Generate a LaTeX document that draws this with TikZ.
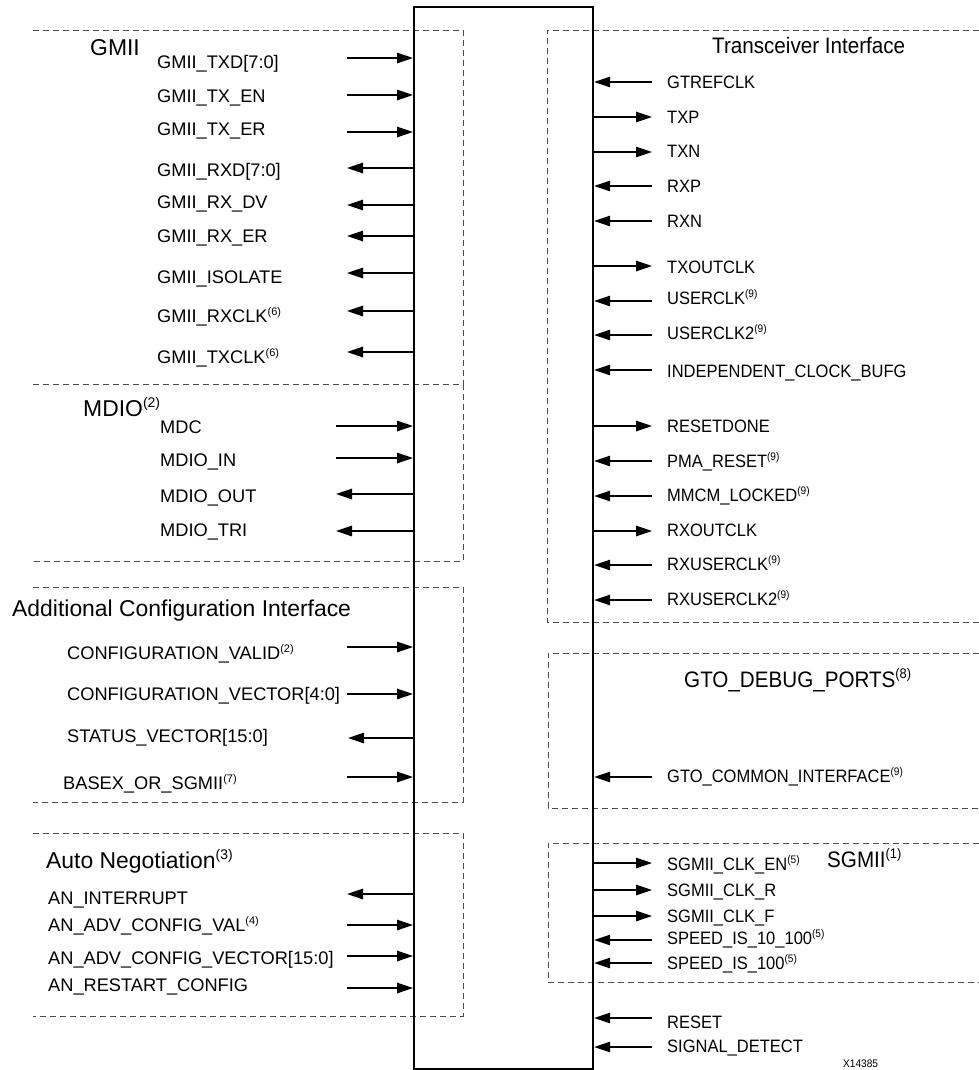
\documentclass[tikz,border=0pt]{standalone}
\usepackage{fontspec}
\setmainfont{Liberation Sans}
\newfontfamily\narfont[FakeStretch=0.92]{Liberation Sans}
\usetikzlibrary{arrows.meta}
\newcommand\nt[1]{\raisebox{7bp}{\fontsize{11}{11}\selectfont(#1)}}
\newcommand\ntt[1]{\raisebox{9bp}{\fontsize{14}{14}\selectfont(#1)}}
\tikzset{
  sig/.style={line width=1.3bp, black},
  tipend/.style={sig, -{Triangle[length=16bp,width=10.5bp]}},
  tipstart/.style={sig, {Triangle[length=16bp,width=10.5bp]}-},
  grp/.style={dashed, dash pattern=on 6bp off 4bp, line width=0.9bp, black!70},
  lbl/.style={inner sep=0, anchor=base west, font=\fontsize{18.3}{20}\selectfont},
  rlbl/.style={inner sep=0, anchor=base west, font=\narfont\fontsize{18}{20}\selectfont},
  ltitle/.style={inner sep=0, anchor=base west, font=\fontsize{23}{26}\selectfont},
  rtitle/.style={inner sep=0, anchor=base west, font=\narfont\fontsize{22.5}{26}\selectfont},
}
% #1 name, #2 style, #3 y, #4 x start, #5 label x, #6 label baseline, #7 text
\newcommand\Lsig[7]{%
  \coordinate (#1) at (#4,#3);
  \draw[#2] (#1) -- (#1 -| core.west);
  \node[lbl] (#1-t) at (#5,#6) {#7};}
% #1 name, #2 style, #3 y, #4 label baseline, #5 text
\newcommand\Rsig[5]{%
  \coordinate (#1) at (652,#3);
  \draw[#2] (#1) -- (#1 -| core.east);
  \node[rlbl] (#1-t) at (667,#4) {#5};}
\begin{document}
\begin{tikzpicture}[x=1bp,y=-1bp]
\useasboundingbox (0,0) rectangle (979,1070);
% group boxes (left)
\draw[grp] (33,30) -- (463,30) -- (463,384);
\draw[grp] (33,384) -- (463,384) -- (463,561) -- (33,561);
\draw[grp] (33,587) -- (463,587) -- (463,802) -- (33,802);
\draw[grp] (33,833) -- (463,833) -- (463,1016) -- (33,1016);
% group boxes (right)
\draw[grp] (979,30) -- (547,30) -- (547,622) -- (979,622);
\draw[grp] (979,653) -- (548,653) -- (548,808) -- (979,808);
\draw[grp] (979,843) -- (548,843) -- (548,982) -- (979,982);
% core block
\node[draw, fill=none, line width=2.2bp, inner sep=0, minimum width=179bp, minimum height=1062bp, anchor=north west] (core) at (413,6) {};
% titles
\node[ltitle] (tgmii) at (90,55) {GMII};
\node[ltitle] (tmdio) at (83,416) {MDIO\ntt{2}};
\node[ltitle] (taci) at (12,616) {Additional Configuration Interface};
\node[ltitle] (tan) at (46,868) {Auto Negotiation\ntt{3}};
\node[rtitle] (ttr) at (712,53) {Transceiver Interface};
\node[rtitle] (tgto) at (684,687) {GTO\_DEBUG\_PORTS\ntt{8}};
\node[rtitle] (tsg) at (827,867) {SGMII\ntt{1}};
\node[inner sep=0, anchor=base west, font=\narfont\fontsize{11}{12}\selectfont] (tid) at (843,1067) {X14385};
% GMII
\Lsig{txd}{tipend}{58}{347}{157}{68}{GMII\_TXD[7:0]}
\Lsig{txen}{tipend}{95}{347}{157}{102}{GMII\_TX\_EN}
\Lsig{txer}{tipend}{132}{347}{157}{135}{GMII\_TX\_ER}
\Lsig{rxd}{tipstart}{168}{347}{157}{176}{GMII\_RXD[7:0]}
\Lsig{rxdv}{tipstart}{205}{347}{157}{208}{GMII\_RX\_DV}
\Lsig{rxer}{tipstart}{236}{347}{157}{242}{GMII\_RX\_ER}
\Lsig{iso}{tipstart}{273}{347}{157}{283}{GMII\_ISOLATE}
\Lsig{rxclk}{tipstart}{311}{347}{157}{322}{GMII\_RXCLK\nt{6}}
\Lsig{txclk}{tipstart}{352}{347}{157}{363}{GMII\_TXCLK\nt{6}}
% MDIO
\Lsig{mdc}{tipend}{426}{336}{160}{433}{MDC}
\Lsig{mdin}{tipend}{458}{336}{160}{466}{MDIO\_IN}
\Lsig{mdout}{tipstart}{494}{336}{160}{502}{MDIO\_OUT}
\Lsig{mdtri}{tipstart}{531}{336}{160}{536}{MDIO\_TRI}
% Additional configuration
\Lsig{cfgv}{tipend}{647}{347}{67}{659}{CONFIGURATION\_VALID\nt{2}}
\Lsig{cfgvec}{tipend}{694}{347}{67}{700}{CONFIGURATION\_VECTOR[4:0]}
\Lsig{stat}{tipstart}{738}{348}{67}{742}{STATUS\_VECTOR[15:0]}
\Lsig{basex}{tipend}{777}{347}{63}{789}{BASEX\_OR\_SGMII\nt{7}}
% Auto negotiation
\Lsig{anint}{tipstart}{894}{347}{48}{904}{AN\_INTERRUPT}
\Lsig{anval}{tipend}{925}{347}{48}{931}{AN\_ADV\_CONFIG\_VAL\nt{4}}
\Lsig{anvec}{tipend}{956}{347}{48}{964}{AN\_ADV\_CONFIG\_VECTOR[15:0]}
\Lsig{anrst}{tipend}{988}{347}{48}{991}{AN\_RESTART\_CONFIG}
% Transceiver interface
\Rsig{gtref}{tipend}{82}{88}{GTREFCLK}
\Rsig{txp}{tipstart}{117}{123}{TXP}
\Rsig{txn}{tipstart}{152}{157}{TXN}
\Rsig{rxp}{tipend}{186}{192}{RXP}
\Rsig{rxn}{tipend}{221}{227}{RXN}
\Rsig{txout}{tipstart}{266}{273}{TXOUTCLK}
\Rsig{uclk}{tipend}{301}{304}{USERCLK\nt{9}}
\Rsig{uclk2}{tipend}{335}{339}{USERCLK2\nt{9}}
\Rsig{indep}{tipend}{370}{377}{INDEPENDENT\_CLOCK\_BUFG}
\Rsig{rdone}{tipstart}{426}{432}{RESETDONE}
\Rsig{pma}{tipend}{461}{467}{PMA\_RESET\nt{9}}
\Rsig{mmcm}{tipend}{496}{501}{MMCM\_LOCKED\nt{9}}
\Rsig{rxout}{tipstart}{531}{536}{RXOUTCLK}
\Rsig{rxu}{tipend}{565}{570}{RXUSERCLK\nt{9}}
\Rsig{rxu2}{tipend}{600}{605}{RXUSERCLK2\nt{9}}
% GTO debug
\Rsig{gtoc}{tipend}{777}{782}{GTO\_COMMON\_INTERFACE\nt{9}}
% SGMII
\Rsig{sgen}{tipstart}{863}{870}{SGMII\_CLK\_EN\nt{5}}
\Rsig{sgr}{tipstart}{890}{896}{SGMII\_CLK\_R}
\Rsig{sgf}{tipstart}{916}{922}{SGMII\_CLK\_F}
\Rsig{sp10}{tipend}{940}{944}{SPEED\_IS\_10\_100\nt{5}}
\Rsig{sp100}{tipend}{963}{969}{SPEED\_IS\_100\nt{5}}
% misc
\Rsig{rst}{tipend}{1018}{1028}{RESET}
\Rsig{sigdet}{tipend}{1047}{1052}{SIGNAL\_DETECT}
\end{tikzpicture}
\end{document}
